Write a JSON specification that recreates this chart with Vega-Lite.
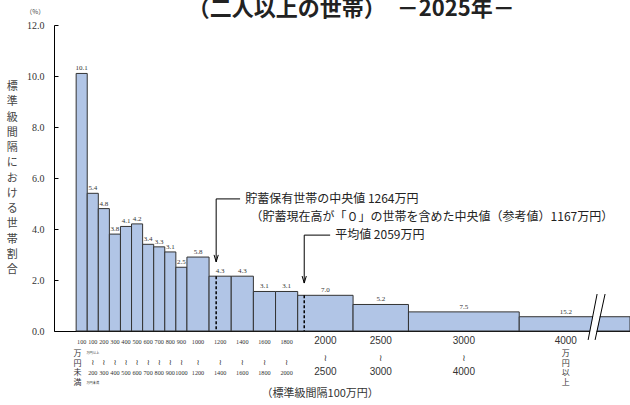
{
  "$schema": "https://vega.github.io/schema/vega-lite/v6.json",
  "width": 576,
  "height": 306,
  "autosize": {"type": "none"},
  "padding": {"left": 54, "top": 25, "right": 0, "bottom": 74},
  "background": "white",
  "config": {"view": {"stroke": null}},
  "datasets": {
    "bars": [
      {"lo": 0, "hi": 100, "mid": 50, "vx": 12, "h": 10.1, "pct": "10.1", "from": "100", "to": "", "tier": "n", "vert": "万\n円\n未\n満"},
      {"lo": 100, "hi": 200, "mid": 150, "h": 5.4, "pct": "5.4", "from": "100", "to": "200", "tier": "n", "sub1": "万円以上", "sub2": "万円未満"},
      {"lo": 200, "hi": 300, "mid": 250, "h": 4.8, "pct": "4.8", "from": "200", "to": "300", "tier": "n"},
      {"lo": 300, "hi": 400, "mid": 350, "h": 3.8, "pct": "3.8", "from": "300", "to": "400", "tier": "n"},
      {"lo": 400, "hi": 500, "mid": 450, "h": 4.1, "pct": "4.1", "from": "400", "to": "500", "tier": "n"},
      {"lo": 500, "hi": 600, "mid": 550, "h": 4.2, "pct": "4.2", "from": "500", "to": "600", "tier": "n"},
      {"lo": 600, "hi": 700, "mid": 650, "h": 3.4, "pct": "3.4", "from": "600", "to": "700", "tier": "n"},
      {"lo": 700, "hi": 800, "mid": 750, "h": 3.3, "pct": "3.3", "from": "700", "to": "800", "tier": "n"},
      {"lo": 800, "hi": 900, "mid": 850, "h": 3.1, "pct": "3.1", "from": "800", "to": "900", "tier": "n"},
      {"lo": 900, "hi": 1000, "mid": 950, "h": 2.5, "pct": "2.5", "from": "900", "to": "1000", "tier": "n"},
      {"lo": 1000, "hi": 1200, "mid": 1100, "h": 2.9, "pct": "5.8", "from": "1000", "to": "1200", "tier": "m"},
      {"lo": 1200, "hi": 1400, "mid": 1300, "h": 2.15, "pct": "4.3", "from": "1200", "to": "1400", "tier": "m"},
      {"lo": 1400, "hi": 1600, "mid": 1500, "h": 2.15, "pct": "4.3", "from": "1400", "to": "1600", "tier": "m"},
      {"lo": 1600, "hi": 1800, "mid": 1700, "h": 1.55, "pct": "3.1", "from": "1600", "to": "1800", "tier": "m"},
      {"lo": 1800, "hi": 2000, "mid": 1900, "h": 1.55, "pct": "3.1", "from": "1800", "to": "2000", "tier": "m"},
      {"lo": 2000, "hi": 2500, "mid": 2250, "h": 1.4, "pct": "7.0", "from": "2000", "to": "2500", "tier": "w"},
      {"lo": 2500, "hi": 3000, "mid": 2750, "h": 1.04, "pct": "5.2", "from": "2500", "to": "3000", "tier": "w"},
      {"lo": 3000, "hi": 4000, "mid": 3500, "h": 0.75, "pct": "7.5", "from": "3000", "to": "4000", "tier": "w"},
      {"lo": 4000, "hi": 5000, "mid": 4420, "vx": 4420, "h": 0.56, "pct": "15.2", "from": "4000", "to": "", "tier": "w", "vert": "万\n円\n以\n上"}
    ],
    "arrows": [
      {"name": "median", "x": 1264, "ybar": 2.15, "ytop": 5.18, "ytip": 2.71, "xend": 1480},
      {"name": "mean", "x": 2059, "ybar": 1.4, "ytop": 3.76, "ytip": 1.88, "xend": 2293}
    ],
    "notes": [
      {"x": 1526, "y": 5.18, "text": "貯蓄保有世帯の中央値 1264万円"},
      {"x": 1575, "y": 4.47, "text": "（貯蓄現在高が「０」の世帯を含めた中央値（参考値）1167万円）"},
      {"x": 2338, "y": 3.76, "text": "平均値 2059万円"}
    ],
    "breaks": [
      {"part": "gap", "x1": 4653, "y1": -0.35, "x2": 4739, "y2": 1.45},
      {"part": "line", "x1": 4622, "y1": -0.35, "x2": 4703, "y2": 1.45},
      {"part": "line", "x1": 4685, "y1": -0.35, "x2": 4775, "y2": 1.45}
    ],
    "texts": [
      {"role": "title", "x": 2483, "y": 12.37, "text": "（二人以上の世帯）　－2025年－"},
      {"role": "unit", "x": -370, "y": 12.51, "text": "（%）"},
      {"role": "xtitle", "x": 2203, "y": -2.47, "text": "（標準級間隔100万円）"},
      {"role": "ytitle", "x": -578, "y": 9.8, "text": "標\n準\n級\n間\n隔\nに\nお\nけ\nる\n世\n帯\n割\n合"}
    ]
  },
  "layer": [
    {
      "data": {"name": "bars"},
      "mark": {"type": "rect", "fill": "#b1c5e6", "stroke": "#333333", "strokeWidth": 1},
      "encoding": {
        "x": {"field": "lo", "type": "quantitative", "scale": {"domain": [-200, 5000], "nice": false, "zero": false},
          "axis": {"ticks": false, "labels": false, "title": null, "grid": false, "domainColor": "#000000"}},
        "x2": {"field": "hi"},
        "y": {"field": "h", "type": "quantitative", "scale": {"domain": [0, 12], "nice": false, "zero": false},
          "axis": {"values": [0, 2, 4, 6, 8, 10, 12], "format": ".1f", "grid": false, "tickSize": -4, "tickColor": "#000000", "domainColor": "#000000",
            "labelFont": "Liberation Serif", "labelFontSize": 10, "labelColor": "#333333", "labelPadding": 14, "title": null}},
        "y2": {"datum": 0}
      }
    },
    {
      "data": {"name": "bars"},
      "mark": {"type": "text", "font": "Liberation Serif", "fontSize": 7, "color": "#333333", "baseline": "bottom", "dy": -2},
      "encoding": {
        "x": {"field": "mid", "type": "quantitative"},
        "y": {"field": "h", "type": "quantitative"},
        "text": {"field": "pct"}
      }
    },
    {
      "data": {"name": "arrows"},
      "mark": {"type": "rule", "color": "#000000", "strokeWidth": 1.5, "strokeDash": [3, 2]},
      "encoding": {
        "x": {"field": "x", "type": "quantitative"},
        "y": {"field": "ybar", "type": "quantitative"},
        "y2": {"datum": 0}
      }
    },
    {
      "data": {"name": "arrows"},
      "mark": {"type": "rule", "color": "#000000", "strokeWidth": 1},
      "encoding": {
        "x": {"field": "x", "type": "quantitative"},
        "y": {"field": "ytop", "type": "quantitative"},
        "y2": {"field": "ytip"}
      }
    },
    {
      "data": {"name": "arrows"},
      "mark": {"type": "rule", "color": "#000000", "strokeWidth": 1},
      "encoding": {
        "x": {"field": "x", "type": "quantitative"},
        "x2": {"field": "xend"},
        "y": {"field": "ytop", "type": "quantitative"}
      }
    },
    {
      "data": {"name": "arrows"},
      "mark": {"type": "point", "shape": "M-0.6,-2L0,0L0.6,-2", "filled": false, "stroke": "#000000", "strokeWidth": 1, "size": 49, "opacity": 1},
      "encoding": {
        "x": {"field": "x", "type": "quantitative"},
        "y": {"field": "ytip", "type": "quantitative"}
      }
    },
    {
      "data": {"name": "notes"},
      "mark": {"type": "text", "font": "Noto Sans CJK JP", "fontSize": 12, "color": "#222222", "align": "left", "baseline": "middle"},
      "encoding": {
        "x": {"field": "x", "type": "quantitative"},
        "y": {"field": "y", "type": "quantitative"},
        "text": {"field": "text"}
      }
    },
    {
      "data": {"name": "breaks"},
      "transform": [{"filter": "datum.part === 'gap'"}],
      "mark": {"type": "rule", "color": "#ffffff", "strokeWidth": 6.5},
      "encoding": {
        "x": {"field": "x1", "type": "quantitative"},
        "x2": {"field": "x2"},
        "y": {"field": "y1", "type": "quantitative"},
        "y2": {"field": "y2"}
      }
    },
    {
      "data": {"name": "breaks"},
      "transform": [{"filter": "datum.part === 'line'"}],
      "mark": {"type": "rule", "color": "#000000", "strokeWidth": 1},
      "encoding": {
        "x": {"field": "x1", "type": "quantitative"},
        "x2": {"field": "x2"},
        "y": {"field": "y1", "type": "quantitative"},
        "y2": {"field": "y2"}
      }
    },
    {
      "data": {"name": "bars"},
      "transform": [{"filter": "datum.tier !== 'w'"}],
      "mark": {"type": "text", "font": "Liberation Serif", "fontSize": 6.2, "color": "#333333", "baseline": "middle"},
      "encoding": {
        "x": {"field": "mid", "type": "quantitative"},
        "y": {"datum": -0.45, "type": "quantitative"},
        "text": {"field": "from"}
      }
    },
    {
      "data": {"name": "bars"},
      "transform": [{"filter": "datum.tier !== 'w' && datum.to !== ''"}],
      "mark": {"type": "text", "font": "DejaVu Sans", "fontSize": 8, "color": "#333333", "baseline": "middle"},
      "encoding": {
        "x": {"field": "mid", "type": "quantitative"},
        "y": {"datum": -1.25, "type": "quantitative"},
        "text": {"value": "≀"}
      }
    },
    {
      "data": {"name": "bars"},
      "transform": [{"filter": "datum.tier !== 'w' && datum.to !== ''"}],
      "mark": {"type": "text", "font": "Liberation Serif", "fontSize": 6.2, "color": "#333333", "baseline": "middle"},
      "encoding": {
        "x": {"field": "mid", "type": "quantitative"},
        "y": {"datum": -1.65, "type": "quantitative"},
        "text": {"field": "to"}
      }
    },
    {
      "data": {"name": "bars"},
      "transform": [{"filter": "datum.sub1"}],
      "mark": {"type": "text", "font": "Noto Sans CJK JP", "fontSize": 3.2, "color": "#333333", "baseline": "middle"},
      "encoding": {
        "x": {"field": "mid", "type": "quantitative"},
        "y": {"datum": -0.86, "type": "quantitative"},
        "text": {"field": "sub1"}
      }
    },
    {
      "data": {"name": "bars"},
      "transform": [{"filter": "datum.sub2"}],
      "mark": {"type": "text", "font": "Noto Sans CJK JP", "fontSize": 3.2, "color": "#333333", "baseline": "middle"},
      "encoding": {
        "x": {"field": "mid", "type": "quantitative"},
        "y": {"datum": -2.04, "type": "quantitative"},
        "text": {"field": "sub2"}
      }
    },
    {
      "data": {"name": "bars"},
      "transform": [{"filter": "datum.tier === 'w'"}],
      "mark": {"type": "text", "font": "Liberation Sans", "fontSize": 10, "color": "#333333", "baseline": "middle"},
      "encoding": {
        "x": {"field": "mid", "type": "quantitative"},
        "y": {"datum": -0.41, "type": "quantitative"},
        "text": {"field": "from"}
      }
    },
    {
      "data": {"name": "bars"},
      "transform": [{"filter": "datum.tier === 'w' && datum.to !== ''"}],
      "mark": {"type": "text", "font": "DejaVu Sans", "fontSize": 9, "color": "#333333", "baseline": "middle"},
      "encoding": {
        "x": {"field": "mid", "type": "quantitative"},
        "y": {"datum": -1.06, "type": "quantitative"},
        "text": {"value": "≀"}
      }
    },
    {
      "data": {"name": "bars"},
      "transform": [{"filter": "datum.tier === 'w' && datum.to !== ''"}],
      "mark": {"type": "text", "font": "Liberation Sans", "fontSize": 10, "color": "#333333", "baseline": "middle"},
      "encoding": {
        "x": {"field": "mid", "type": "quantitative"},
        "y": {"datum": -1.61, "type": "quantitative"},
        "text": {"field": "to"}
      }
    },
    {
      "data": {"name": "bars"},
      "transform": [{"filter": "datum.vert"}],
      "mark": {"type": "text", "font": "Noto Sans CJK JP", "fontSize": 8, "lineHeight": 9.6, "lineBreak": "\n", "color": "#333333", "baseline": "top"},
      "encoding": {
        "x": {"field": "vx", "type": "quantitative"},
        "y": {"datum": -0.75, "type": "quantitative"},
        "text": {"field": "vert"}
      }
    },
    {
      "data": {"name": "texts"},
      "transform": [{"filter": "datum.role === 'title'"}],
      "mark": {"type": "text", "font": "Noto Sans CJK JP", "fontSize": 22, "fontWeight": "bold", "color": "#222222", "baseline": "alphabetic"},
      "encoding": {
        "x": {"field": "x", "type": "quantitative"},
        "y": {"field": "y", "type": "quantitative"},
        "text": {"field": "text"}
      }
    },
    {
      "data": {"name": "texts"},
      "transform": [{"filter": "datum.role === 'unit'"}],
      "mark": {"type": "text", "font": "Noto Sans CJK JP", "fontSize": 6.5, "color": "#444444", "baseline": "middle"},
      "encoding": {
        "x": {"field": "x", "type": "quantitative"},
        "y": {"field": "y", "type": "quantitative"},
        "text": {"field": "text"}
      }
    },
    {
      "data": {"name": "texts"},
      "transform": [{"filter": "datum.role === 'xtitle'"}],
      "mark": {"type": "text", "font": "Noto Sans CJK JP", "fontSize": 11, "color": "#333333", "baseline": "middle"},
      "encoding": {
        "x": {"field": "x", "type": "quantitative"},
        "y": {"field": "y", "type": "quantitative"},
        "text": {"field": "text"}
      }
    },
    {
      "data": {"name": "texts"},
      "transform": [{"filter": "datum.role === 'ytitle'"}],
      "mark": {"type": "text", "font": "Noto Sans CJK JP", "fontSize": 11, "lineHeight": 15.25, "lineBreak": "\n", "color": "#444444", "baseline": "top"},
      "encoding": {
        "x": {"field": "x", "type": "quantitative"},
        "y": {"field": "y", "type": "quantitative"},
        "text": {"field": "text"}
      }
    }
  ]
}
